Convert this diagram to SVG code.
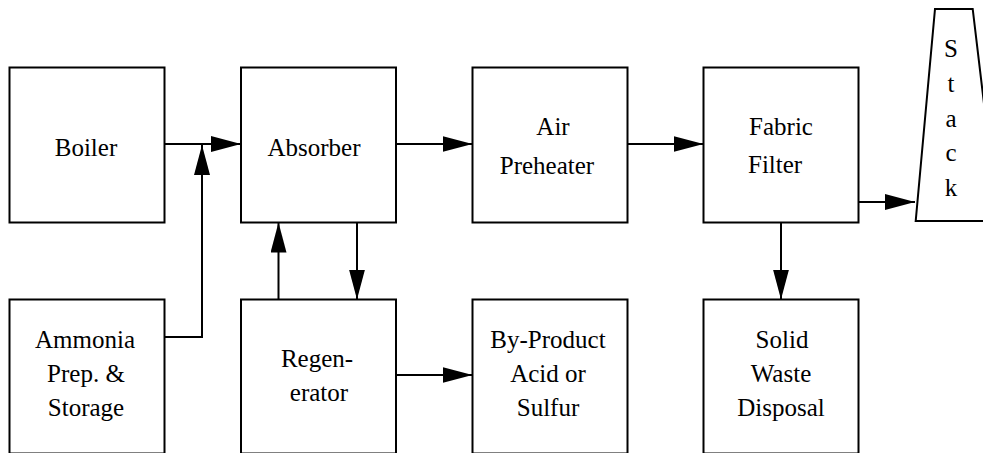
<svg xmlns="http://www.w3.org/2000/svg" width="983" height="453" viewBox="0 0 983 453">
<style>
  .box { fill: #fff; stroke: #000; stroke-width: 2; }
  text { font-family: 'Liberation Serif', 'Times New Roman', Times, serif; font-size: 25px; fill: #000; text-anchor: middle; }
  .con { fill: none; stroke: #000; stroke-width: 2; }
</style>
<defs>
  <marker id="ah" markerUnits="userSpaceOnUse" markerWidth="30" markerHeight="16" viewBox="0 0 30 16" refX="30" refY="8" orient="auto">
    <path d="M0,0 L30,8 L0,16 z" fill="#000"/>
  </marker>
</defs>
<rect width="983" height="453" fill="#fff"/>

<g font-family="Liberation Serif, Times New Roman, serif">
<g id="boiler">
  <rect class="box" x="9.5" y="67.5" width="155" height="155"/>
  <text x="86" y="156">Boiler</text>
</g>
<g id="absorber">
  <rect class="box" x="241" y="67.5" width="155" height="155"/>
  <text x="314" y="156">Absorber</text>
</g>
<g id="air-preheater">
  <rect class="box" x="472.5" y="67.5" width="155" height="155"/>
  <text x="553" y="135">Air</text>
  <text x="547" y="174">Preheater</text>
</g>
<g id="fabric-filter">
  <rect class="box" x="703.5" y="67.5" width="155" height="155"/>
  <text x="781" y="135">Fabric</text>
  <text x="748" y="173" text-anchor="start" style="text-anchor:start">Filter</text>
</g>
<g id="stack">
  <polygon class="box" points="935,9 972.7,9 998,221 915.7,221"/>
  <text x="951" y="57">S</text>
  <text x="951" y="92">t</text>
  <text x="951" y="127">a</text>
  <text x="951" y="161">c</text>
  <text x="951" y="196">k</text>
</g>
<g id="ammonia">
  <rect class="box" x="9.5" y="299.5" width="155" height="154"/>
  <text x="85" y="348">Ammonia</text>
  <text x="86" y="382">Prep. &amp;</text>
  <text x="86" y="416">Storage</text>
</g>
<g id="regenerator">
  <rect class="box" x="241" y="299.5" width="155" height="154"/>
  <text x="317" y="367">Regen-</text>
  <text x="319" y="401">erator</text>
</g>
<g id="by-product">
  <rect class="box" x="472.5" y="299.5" width="155" height="154"/>
  <text x="548" y="348">By-Product</text>
  <text x="548" y="382">Acid or</text>
  <text x="548" y="416">Sulfur</text>
</g>
<g id="solid-waste">
  <rect class="box" x="703.5" y="299.5" width="155" height="154"/>
  <text x="782" y="348">Solid</text>
  <text x="781" y="382">Waste</text>
  <text x="781" y="416">Disposal</text>
</g>
</g>

<g id="connectors">
  <line class="con" x1="164.5" y1="144" x2="241" y2="144" marker-end="url(#ah)"/>
  <polyline class="con" points="164.5,337 202,337 202,145" marker-end="url(#ah)"/>
  <line class="con" x1="396" y1="144" x2="472.5" y2="144" marker-end="url(#ah)"/>
  <line class="con" x1="627.5" y1="144" x2="703.5" y2="144" marker-end="url(#ah)"/>
  <line class="con" x1="858.5" y1="202" x2="915" y2="202" marker-end="url(#ah)"/>
  <line class="con" x1="357" y1="222.5" x2="357" y2="299.5" marker-end="url(#ah)"/>
  <line class="con" x1="278.5" y1="299.5" x2="278.5" y2="222.5" marker-end="url(#ah)"/>
  <line class="con" x1="396" y1="375" x2="472.5" y2="375" marker-end="url(#ah)"/>
  <line class="con" x1="781" y1="222.5" x2="781" y2="299.5" marker-end="url(#ah)"/>
</g>
</svg>
